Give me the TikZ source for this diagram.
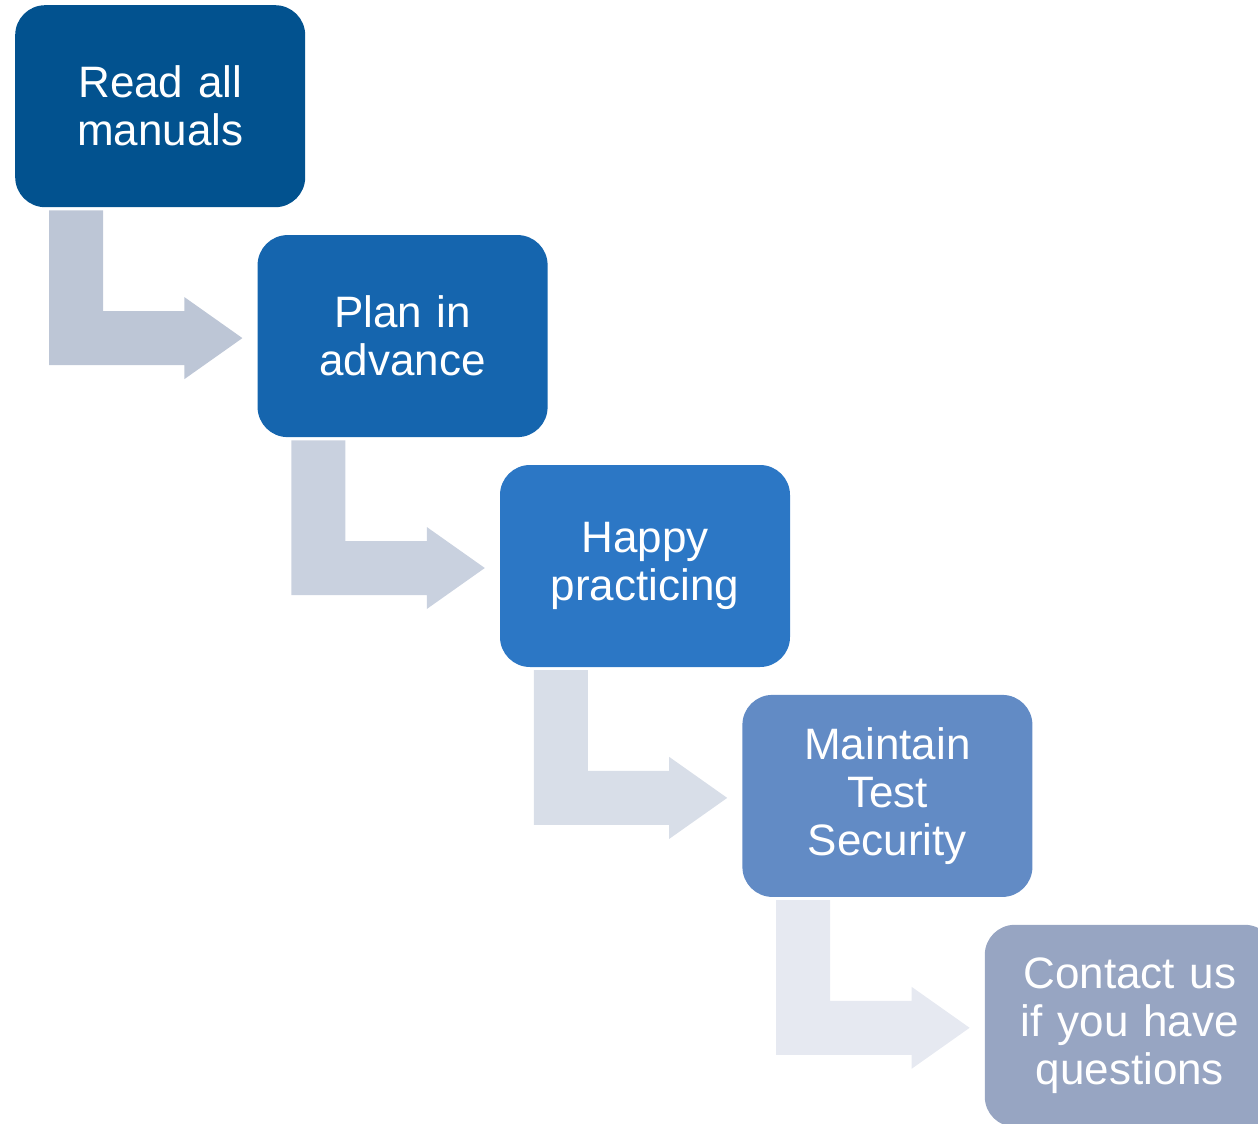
\documentclass[tikz,border=0pt]{standalone}
\usepackage{fontspec}
\setmainfont{Liberation Sans}
\usepackage{tikz}
\usetikzlibrary{positioning,calc}

\definecolor{boxa}{HTML}{02528F}
\definecolor{boxb}{HTML}{1565AE}
\definecolor{boxc}{HTML}{2C77C5}
\definecolor{boxd}{HTML}{628BC5}
\definecolor{boxe}{HTML}{97A5C2}
\definecolor{arra}{HTML}{BDC6D6}
\definecolor{arrb}{HTML}{C9D1DF}
\definecolor{arrc}{HTML}{D8DEE8}
\definecolor{arrd}{HTML}{E6E9F1}

% bent arrow from the bottom of #1 to the left side of #2
\newcommand{\bentarrow}[3]{%
  \fill[#3] let \p1=(#1.south west), \p2=(#2.west) in
    (\x1+34pt,\y1-3pt) -- (\x1+88pt,\y1-3pt) -- (\x1+88pt,\y2+25pt)
    -- (\x2-73pt,\y2+25pt) -- (\x2-73pt,\y2+39pt) -- (\x2-15pt,\y2-2pt)
    -- (\x2-73pt,\y2-43pt) -- (\x2-73pt,\y2-29pt) -- (\x1+34pt,\y2-29pt) -- cycle;}

\begin{document}
\begin{tikzpicture}[stepbox/.style={rounded corners=30pt,minimum width=290pt,
        minimum height=202pt,text width=270pt,align=center,inner sep=0pt,
        text=white,font=\fontsize{44}{48}\selectfont},
        node distance=27.5pt and -48pt]

  \useasboundingbox (0,0) rectangle (1258pt,-1124pt);
  \clip (0,0) rectangle (1258pt,-1124pt);

  \node[stepbox,fill=boxa,anchor=north west] (read) at (15pt,-5pt) {Read all\\manuals};
  \node[stepbox,fill=boxb] (plan) [below right=of read] {Plan in\\advance};
  \node[stepbox,fill=boxc] (happy) [below right=of plan] {Happy\\practicing};
  \node[stepbox,fill=boxd] (secure) [below right=of happy] {Maintain\\Test\\Security};
  \node[stepbox,fill=boxe] (contact) [below right=of secure] {Contact us\\if you have\\questions};

  \bentarrow{read}{plan}{arra}
  \bentarrow{plan}{happy}{arrb}
  \bentarrow{happy}{secure}{arrc}
  \bentarrow{secure}{contact}{arrd}

\end{tikzpicture}
\end{document}
